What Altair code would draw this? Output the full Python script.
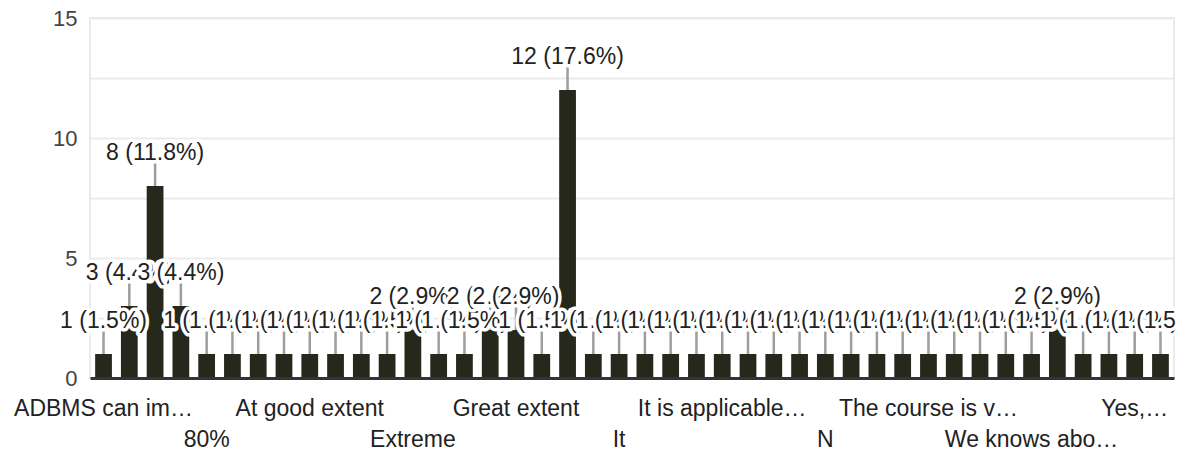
import json
import altair as alt
import pandas as pd

# Response counts for each of the 42 answers, in the order drawn (total 68)
counts = [1, 3, 8, 3, 1, 1, 1, 1, 1, 1, 1, 1, 2, 1, 1, 2, 2, 1, 12, 1,
          1, 1, 1, 1, 1, 1, 1, 1, 1, 1, 1, 1, 1, 1, 1, 1, 1, 2, 1, 1,
          1, 1]

# Axis labels as shown (only every 4th answer is labelled in the chart)
tick_labels = ["ADBMS can im…", "", "", "",
               "80%", "", "", "",
               "At good extent", "", "", "",
               "Extreme", "", "", "",
               "Great extent", "", "", "",
               "It", "", "", "",
               "It is applicable…", "", "", "",
               "N", "", "", "",
               "The course is v…", "", "", "",
               "We knows abo…", "", "", "",
               "Yes,…", ""]

y_ticks = [0, 2.5, 5, 7.5, 10, 12.5, 15]

total = sum(counts)
df = pd.DataFrame({
    "idx": list(range(len(counts))),
    "count": counts,
    "label": [f"{c} ({c / total * 100:.1f}%)" for c in counts],
})

FONT = "Liberation Sans"
BAR = "#25281a"

arr = json.dumps(tick_labels, ensure_ascii=False)
label_expr = f"(datum.value % 8 == 4) ? ['', {arr}[datum.value]] : {arr}[datum.value]"

x_enc = alt.X(
    "idx:O",
    scale=alt.Scale(paddingInner=0.35, paddingOuter=0.2),
    axis=alt.Axis(
        title=None, labelAngle=0, labelExpr=label_expr, labelFont=FONT,
        labelFontSize=23, labelColor="#222222", labelPadding=19,
        labelLineHeight=31, labelBaseline="top", ticks=False,
        domainColor="#333333", domainWidth=3, labelOverlap=False,
        labelBound=False, labelFlush=False, zindex=1, grid=False,
    ),
)
y_enc = alt.Y(
    "count:Q",
    scale=alt.Scale(domain=[0, 15], nice=False),
    axis=alt.Axis(
        title=None, values=y_ticks,
        labelExpr="datum.value % 5 == 0 ? datum.label : ''",
        labelFont=FONT, labelFontSize=22, labelColor="#444444",
        labelPadding=13, ticks=False, domain=False,
        gridColor="#ebebeb", gridWidth=2,
    ),
)

bars = alt.Chart().mark_bar(color=BAR).encode(x=x_enc, y=y_enc)
leaders = alt.Chart().mark_rule(color="#9e9e9e", strokeWidth=2.5, y2Offset=-24).encode(
    x=x_enc, y=y_enc, y2=alt.Y2("count")
)

texts = []
for i in range(len(counts)):
    sel = alt.Chart().transform_filter(alt.datum.idx == i)
    texts.append(sel.mark_text(
        dy=-33, font=FONT, fontSize=23, fill="white", stroke="white",
        strokeWidth=7, strokeJoin="round", baseline="middle",
    ).encode(x=x_enc, y=y_enc, text="label:N"))
    texts.append(sel.mark_text(
        dy=-33, font=FONT, fontSize=23, fill="#222222", baseline="middle",
    ).encode(x=x_enc, y=y_enc, text="label:N"))

chart = alt.layer(bars, leaders, *texts, data=df).properties(
    width=1084, height=360,
    autosize="none",
    padding={"left": 82, "top": 10, "right": 2, "bottom": 72},
).configure_view(stroke="#ebebeb", strokeWidth=2)

chart.save("out.html", embed_options={"renderer": "svg", "actions": False})
